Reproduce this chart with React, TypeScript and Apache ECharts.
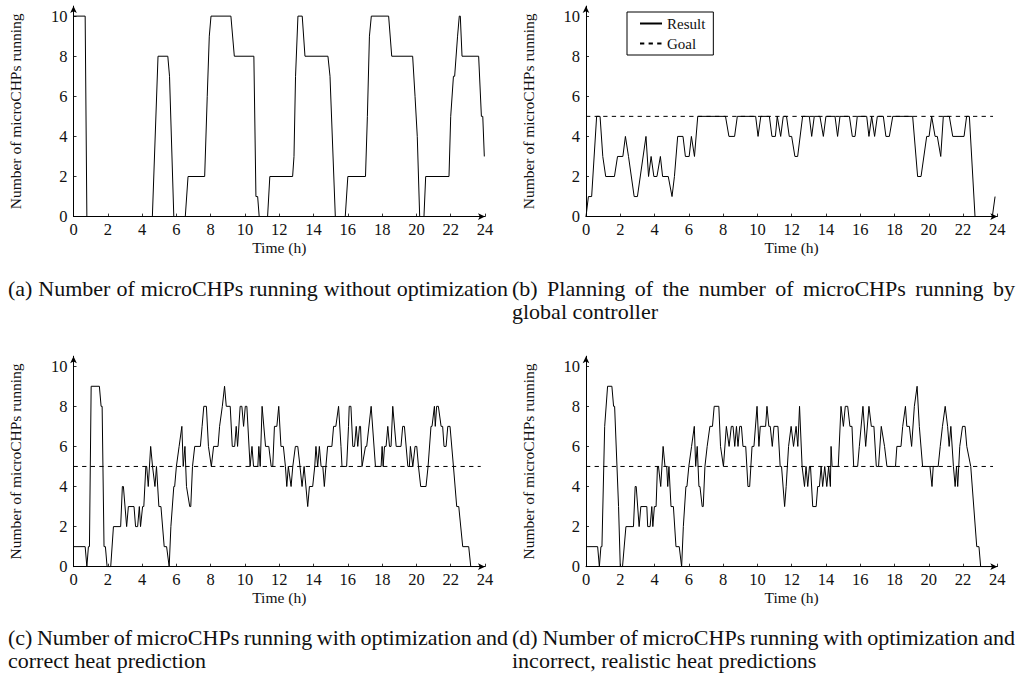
import React, { useEffect, useRef } from 'react';
import * as echarts from 'echarts';

// ---------- data (time in hours, number of microCHPs running) ----------
const timeA = [0, 0.68, 0.78, 4.6, 4.93, 5.5, 5.6, 5.85, 6.52, 6.68, 7.65, 7.8, 7.92, 8.02, 9.18, 9.38, 10.52, 10.64, 10.74, 10.83, 11.32, 11.45, 12.78, 12.86, 12.95, 13.09, 13.34, 13.5, 14.84, 14.96, 15.0, 15.27, 15.85, 16.0, 17.03, 17.14, 17.26, 17.37, 18.38, 18.56, 19.78, 19.92, 20.05, 20.19, 20.44, 20.54, 21.9, 22.0, 22.16, 22.23, 22.4, 22.5, 22.56, 22.66, 23.63, 23.79, 23.87, 23.96];
const countA = [10, 10, 0, 0, 8, 8, 7, 0, 0, 2, 2, 6, 9, 10, 10, 8, 8, 1, 1, 0, 0, 2, 2, 3, 7, 10, 10, 8, 8, 7, 7, 0, 0, 2, 2, 5, 9, 10, 10, 8, 8, 6, 4, 0, 0, 2, 2, 5, 7, 7, 9, 10, 10, 8, 8, 5, 5, 3];

const timeB = [0, 0.14, 0.33, 0.62, 0.82, 0.98, 1.15, 1.66, 1.84, 2.15, 2.3, 2.48, 2.81, 3.0, 3.5, 3.65, 3.8, 3.96, 4.14, 4.34, 4.47, 4.8, 5.02, 5.16, 5.35, 5.66, 5.8, 6.02, 6.15, 6.33, 6.52, 8.14, 8.34, 8.67, 8.83, 9.9, 10.04, 10.2, 10.7, 10.85, 11.05, 11.16, 11.36, 11.51, 11.7, 11.86, 12.0, 12.19, 12.35, 12.64, 13.03, 13.17, 13.32, 13.65, 13.85, 14.0, 14.53, 14.68, 14.82, 15.37, 15.54, 15.7, 15.83, 16.38, 16.51, 16.67, 16.84, 17.0, 17.35, 17.5, 17.7, 17.9, 19.06, 19.35, 19.55, 19.88, 20.02, 20.17, 20.37, 20.5, 20.7, 20.85, 21.2, 21.4, 22.06, 22.21, 22.37, 22.7, 23.71, 23.87];
const countB = [0, 1, 1, 5, 5, 3, 2, 2, 3, 3, 4, 3, 1, 1, 4, 2, 3, 2, 2, 3, 2, 2, 1, 2, 4, 4, 3, 3, 4, 3, 5, 5, 4, 4, 5, 5, 4, 5, 5, 4, 4, 5, 4, 5, 5, 4, 4, 3, 3, 5, 5, 4, 5, 5, 4, 5, 5, 4, 5, 5, 4, 4, 5, 5, 4, 5, 4, 5, 5, 4, 4, 5, 5, 2, 2, 4, 4, 5, 4, 4, 3, 5, 5, 4, 4, 5, 5, 0, 0, 1];

const timeC = [0, 0.68, 0.78, 0.87, 0.93, 1.03, 1.51, 1.61, 1.67, 1.78, 1.86, 1.96, 2.17, 2.33, 2.75, 2.85, 2.91, 3.1, 3.2, 3.53, 3.62, 3.74, 3.84, 3.91, 4.03, 4.1, 4.22, 4.27, 4.36, 4.5, 4.61, 4.75, 4.84, 4.98, 5.1, 5.29, 5.43, 5.58, 5.68, 5.85, 5.9, 6.0, 6.16, 6.32, 6.4, 6.5, 6.59, 6.78, 6.84, 6.94, 7.07, 7.4, 7.5, 7.6, 7.75, 7.87, 8.04, 8.17, 8.43, 8.52, 8.68, 8.81, 8.91, 9.14, 9.26, 9.4, 9.49, 9.57, 9.72, 9.82, 9.92, 10.02, 10.11, 10.3, 10.41, 10.5, 10.75, 10.81, 10.89, 11.0, 11.2, 11.39, 11.53, 11.62, 11.72, 11.86, 11.97, 12.1, 12.24, 12.36, 12.44, 12.53, 12.69, 12.79, 12.94, 13.08, 13.21, 13.33, 13.45, 13.66, 13.76, 13.95, 14.07, 14.14, 14.24, 14.34, 14.44, 14.54, 14.63, 14.72, 14.82, 15.07, 15.17, 15.3, 15.46, 15.6, 15.66, 15.93, 16.04, 16.08, 16.18, 16.29, 16.39, 16.49, 16.58, 16.68, 16.74, 16.83, 17.03, 17.1, 17.36, 17.61, 17.94, 18.0, 18.06, 18.14, 18.23, 18.33, 18.43, 18.52, 18.62, 18.82, 19.1, 19.2, 19.3, 19.5, 19.59, 19.65, 19.79, 19.92, 20.02, 20.12, 20.25, 20.56, 20.68, 20.85, 20.91, 21.05, 21.1, 21.18, 21.28, 21.44, 21.53, 21.61, 21.73, 21.83, 21.96, 22.16, 22.35, 22.47, 22.7, 23.05, 23.17, 23.9];
const countC = [1, 1, 0, 1, 1, 9, 9, 8, 8, 1, 1, 0, 0, 2, 2, 4, 4, 2, 3, 3, 2, 2, 3, 2, 3, 3, 5, 5, 4, 6, 5, 4, 5, 3, 3, 1, 1, 0, 2, 4, 4, 5, 6, 7, 5, 6, 4, 3, 3, 5, 6, 6, 7, 8, 8, 6, 5, 6, 6, 7, 8, 9, 8, 8, 6, 6, 7, 6, 8, 8, 7, 8, 8, 5, 6, 5, 5, 6, 5, 8, 6, 6, 5, 5, 7, 7, 8, 6, 6, 5, 4, 5, 4, 5, 6, 6, 5, 4, 5, 3, 4, 4, 5, 6, 5, 6, 5, 5, 4, 5, 6, 6, 7, 7, 8, 6, 5, 5, 7, 8, 8, 6, 6, 7, 6, 7, 7, 5, 6, 6, 8, 5, 5, 6, 5, 6, 6, 7, 6, 6, 8, 6, 6, 7, 7, 5, 5, 6, 5, 6, 6, 5, 4, 4, 5, 7, 7, 8, 7, 8, 8, 7, 7, 6, 6, 7, 7, 5, 3, 3, 1, 1, 0, 0];

const timeD = [0, 0.68, 0.78, 0.87, 0.93, 1.09, 1.26, 1.51, 1.61, 1.67, 1.9, 2.0, 2.13, 2.33, 2.77, 2.87, 2.93, 3.1, 3.2, 3.55, 3.6, 3.74, 3.84, 3.9, 3.99, 4.09, 4.17, 4.23, 4.36, 4.5, 4.61, 4.71, 4.77, 4.84, 4.96, 5.1, 5.25, 5.44, 5.58, 5.68, 5.83, 5.89, 6.0, 6.16, 6.32, 6.4, 6.49, 6.59, 6.65, 6.78, 6.84, 6.94, 7.07, 7.23, 7.38, 7.48, 7.75, 7.85, 8.02, 8.19, 8.35, 8.48, 8.58, 8.68, 8.78, 8.87, 8.97, 9.07, 9.16, 9.32, 9.45, 9.55, 9.69, 9.8, 9.98, 10.09, 10.17, 10.48, 10.56, 10.67, 10.75, 10.87, 10.97, 11.2, 11.33, 11.41, 11.59, 11.68, 11.82, 11.97, 12.11, 12.26, 12.36, 12.46, 12.61, 12.75, 12.84, 12.94, 13.04, 13.1, 13.23, 13.43, 13.52, 13.62, 13.72, 13.81, 13.93, 14.05, 14.16, 14.26, 14.3, 14.36, 14.72, 14.88, 15.02, 15.13, 15.27, 15.4, 15.52, 15.62, 15.85, 15.95, 16.16, 16.32, 16.51, 16.65, 16.8, 16.94, 17.07, 17.23, 17.42, 17.56, 18.06, 18.14, 18.38, 18.48, 18.64, 18.72, 18.87, 19.0, 19.16, 19.32, 19.45, 19.64, 20.07, 20.19, 20.26, 20.55, 20.67, 20.8, 20.96, 21.1, 21.19, 21.29, 21.44, 21.54, 21.62, 21.69, 21.81, 21.97, 22.12, 22.22, 22.45, 22.8, 22.93, 23.03, 23.9];
const countD = [1, 1, 0, 1, 1, 7, 9, 9, 8, 8, 3, 0, 0, 2, 2, 4, 4, 2, 3, 3, 2, 2, 3, 2, 3, 3, 5, 5, 4, 6, 5, 5, 4, 5, 3, 3, 1, 1, 0, 2, 4, 4, 5, 6, 7, 5, 6, 4, 4, 3, 3, 5, 6, 7, 7, 8, 8, 6, 5, 7, 6, 7, 7, 6, 7, 6, 7, 7, 6, 6, 4, 4, 6, 6, 8, 6, 7, 7, 8, 7, 7, 6, 7, 7, 5, 5, 3, 4, 6, 7, 6, 7, 6, 8, 5, 4, 5, 4, 5, 5, 3, 3, 4, 4, 5, 4, 5, 4, 5, 4, 6, 5, 5, 8, 7, 8, 8, 7, 7, 5, 5, 6, 8, 6, 8, 7, 7, 5, 5, 7, 6, 5, 5, 6, 6, 7, 8, 7, 7, 6, 8, 9, 7, 5, 5, 4, 5, 5, 6, 7, 8, 7, 6, 7, 5, 4, 5, 4, 6, 7, 7, 6, 5, 1, 1, 0, 0];

const goalTime = [0, 23.75];
const goalValue = [5, 5];

const yTickValues = [0, 2, 4, 6, 8, 10];

const yAxisTitle = 'Number of microCHPs running';
const xAxisTitle = 'Time (h)';

const captionA = ['(a) Number of microCHPs running without optimization'];
const captionB = ['(b) Planning of the number of microCHPs running by', 'global controller'];
const captionC = ['(c) Number of microCHPs running with optimization and', 'correct heat prediction'];
const captionD = ['(d) Number of microCHPs running with optimization and', 'incorrect, realistic heat predictions'];

// ---------- styling ----------
const FONT = 'Liberation Serif';
const INK = '#111';
const CAP_SIZE = 22;
const TICK_SIZE = 16.5;
const TITLE_SIZE = 15.5;

const pairs = (t: number[], v: number[]) => t.map((x, i) => [x, v[i]]);

function measure(text: string, size: number) {
  const ctx = document.createElement('canvas').getContext('2d')!;
  ctx.font = `${size}px "${FONT}"`;
  return ctx.measureText(text).width;
}

function captionLine(text: string, x0: number, x1: number, y: number, justify: boolean) {
  const base = { fill: INK, fontSize: CAP_SIZE, fontFamily: FONT, verticalAlign: 'middle', align: 'left' };
  if (!justify) return [{ type: 'text', x: x0, y, style: { ...base, text } }];
  const words = text.split(' ');
  const widths = words.map((w) => measure(w, CAP_SIZE));
  const total = widths.reduce((a, b) => a + b, 0);
  const gap = (x1 - x0 - total) / (words.length - 1);
  let x = x0;
  return words.map((w, i) => {
    const el = { type: 'text', x, y, style: { ...base, text: w } };
    x += widths[i] + gap;
    return el;
  });
}

const grids = [
  { left: 73.5, top: 6.1, width: 411.5, height: 210.5 },
  { left: 586, top: 6.1, width: 411.3, height: 210.5 },
  { left: 73.5, top: 356.2, width: 411.5, height: 210.5 },
  { left: 586, top: 356.2, width: 411.3, height: 210.5 },
];

const makeX = (i: number) => ({
  type: 'value',
  gridIndex: i,
  min: 0,
  max: 24,
  interval: 2,
  name: xAxisTitle,
  nameLocation: 'middle',
  nameGap: 23,
  nameTextStyle: { fontFamily: FONT, fontSize: TITLE_SIZE, color: INK, fontWeight: 'normal' },
  axisLine: { show: true, lineStyle: { color: '#000', width: 1 }, symbol: ['none', 'arrow'], symbolSize: [5, 7] },
  axisTick: { show: true, inside: true, length: 3, lineStyle: { color: '#000', width: 0.8 } },
  axisLabel: { fontFamily: FONT, fontSize: TICK_SIZE, color: INK, margin: 4 },
  splitLine: { show: false },
});

const makeY = (i: number) => ({
  type: 'value',
  gridIndex: i,
  min: 0,
  max: 10.5,
  interval: 2,
  name: yAxisTitle,
  nameLocation: 'middle',
  nameGap: 50,
  nameTextStyle: { fontFamily: FONT, fontSize: TITLE_SIZE, color: INK, fontWeight: 'normal' },
  axisLine: { show: true, lineStyle: { color: '#000', width: 1 }, symbol: ['none', 'arrow'], symbolSize: [5, 7] },
  axisTick: { show: true, inside: true, length: 3, customValues: yTickValues, lineStyle: { color: '#000', width: 0.8 } },
  axisLabel: { fontFamily: FONT, fontSize: TICK_SIZE, color: INK, margin: 6, customValues: yTickValues },
  splitLine: { show: false },
});

const lineSeries = (name: string, i: number, t: number[], v: number[]) => ({
  name,
  type: 'line',
  xAxisIndex: i,
  yAxisIndex: i,
  data: pairs(t, v),
  showSymbol: false,
  symbol: 'none',
  lineStyle: { color: '#000', width: 1 },
  itemStyle: { color: '#000' },
  emphasis: { disabled: true },
  z: 3,
});

const goalSeries = (name: string, i: number) => ({
  name,
  type: 'line',
  xAxisIndex: i,
  yAxisIndex: i,
  data: pairs(goalTime, goalValue),
  showSymbol: false,
  symbol: 'none',
  lineStyle: { color: '#000', width: 1, type: [4.3, 4.3] },
  itemStyle: { color: '#000' },
  emphasis: { disabled: true },
  z: 2,
});

export default function App() {
  const ref = useRef<HTMLDivElement>(null);
  useEffect(() => {
    if (!ref.current) return;
    const chart = echarts.init(ref.current, undefined, { renderer: 'svg' });
    const graphics: any[] = [
      ...captionLine(captionA[0], 8, 508, 288, true),
      ...captionLine(captionB[0], 512, 1015, 288, true),
      ...captionLine(captionB[1], 512, 1015, 311, false),
      ...captionLine(captionC[0], 8, 508, 637, true),
      ...captionLine(captionC[1], 8, 508, 660, false),
      ...captionLine(captionD[0], 512, 1015, 637, true),
      ...captionLine(captionD[1], 512, 1015, 660, false),
    ];
    chart.setOption({
      animation: false,
      backgroundColor: '#fff',
      grid: grids,
      xAxis: [0, 1, 2, 3].map(makeX),
      yAxis: [0, 1, 2, 3].map(makeY),
      legend: {
        data: ['Result', 'Goal'],
        orient: 'vertical',
        left: 627,
        top: 12,
        padding: [4, 8, 4, 12],
        itemGap: 5,
        itemWidth: 22,
        itemHeight: 12,
        borderColor: '#000',
        borderWidth: 1,
        borderRadius: 0,
        backgroundColor: '#fff',
        selectedMode: false,
        itemStyle: { color: 'rgba(0,0,0,0)', borderColor: 'rgba(0,0,0,0)', borderWidth: 0 },
        textStyle: { fontFamily: FONT, fontSize: 15, color: INK },
      },
      series: [
        lineSeries('Result A', 0, timeA, countA),
        lineSeries('Result', 1, timeB, countB),
        goalSeries('Goal', 1),
        lineSeries('Result C', 2, timeC, countC),
        goalSeries('Goal C', 2),
        lineSeries('Result D', 3, timeD, countD),
        goalSeries('Goal D', 3),
      ],
      graphic: graphics,
    });
    return () => chart.dispose();
  }, []);
  return <div ref={ref} style={{ position: 'fixed', left: 0, top: 0, width: 1022, height: 680, background: '#fff' }} />;
}
